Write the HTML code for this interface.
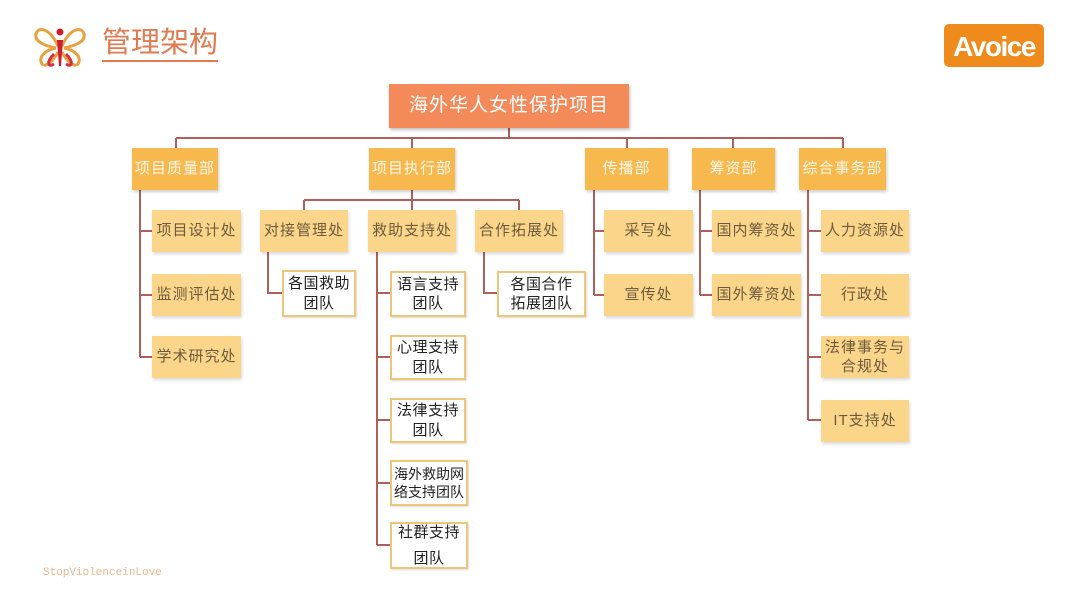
<!DOCTYPE html>
<html><head><meta charset="utf-8"><style>
body{margin:0;width:1080px;height:608px;background:#fff;position:relative;overflow:hidden;font-family:"Liberation Sans","Noto Sans CJK SC",sans-serif}
.b{position:absolute;display:flex;align-items:center;justify-content:center;text-align:center;box-sizing:border-box;line-height:1.3}
.d{background:#f7b84e;color:#fff7e8;font-size:15px;letter-spacing:1px;box-shadow:1px 2px 3px rgba(0,0,0,.2)}
.s{background:#fbd68a;color:#6e5a3c;font-size:15px;letter-spacing:1px;box-shadow:1px 2px 3px rgba(0,0,0,.15)}
.t{background:#fff;border:2px solid #ecc77a;color:#222;font-size:15px;letter-spacing:.5px;box-shadow:1px 1px 2px rgba(0,0,0,.15)}
svg{position:absolute;left:0;top:0}
</style></head><body>
<svg width="1080" height="608" fill="none" stroke="#b0605a" stroke-width="2">
<path d="M509 128V138M176 138H843M176 138V148M412 138V148M627 138V148M733 138V148M843 138V148"/>
<path d="M140 190V357M140 231H152M140 295H152M140 357H152"/>
<path d="M412 190V200M304 200H519M304 200V210M412 200V210M519 200V210"/>
<path d="M268 252V293H282M484 252V293H497"/>
<path d="M377 252V545M377 293H390M377 357H390M377 420H390M377 483H390M377 545H390"/>
<path d="M594 190V295M594 231H604M594 295H604"/>
<path d="M700 190V295M700 231H712M700 295H712"/>
<path d="M808 190V420M808 231H821M808 295H821M808 357H821M808 420H821"/>
</svg>
<svg width="60" height="60" style="left:30px;top:18px" viewBox="0 0 60 60">
<path d="M28 28C20 10 8 8 6 16 4 24 16 28 26 30 14 32 8 40 12 46 16 50 24 42 28 34" stroke="#e8a040" stroke-width="3" fill="none"/>
<path d="M32 28C40 10 52 8 54 16 56 24 44 28 34 30 46 32 52 40 48 46 44 50 36 42 32 34" stroke="#e8a040" stroke-width="3" fill="none"/>
<path d="M24 36C16 44 18 50 24 46M36 36C44 44 42 50 36 46" stroke="#d03040" stroke-width="3" fill="none"/>
<circle cx="30" cy="14" r="3.5" fill="#c8202c"/><path d="M27 22H33L31 48H29Z" fill="#c8202c"/>
</svg>
<div style="position:absolute;left:102px;top:26px;font-size:29px;color:#e07a50;border-bottom:2px solid #e07a50;line-height:34px">管理架构</div>
<div style="position:absolute;left:944px;top:24px;width:100px;height:43px;background:#ef8a1c;border-radius:5px;color:#fff;font-size:28px;font-weight:bold;text-align:center;line-height:46px;letter-spacing:-1.5px">Avoice</div>
<div style="position:absolute;left:43px;top:567px;font-size:11px;color:#eab890;font-family:'Liberation Mono',monospace">StopViolenceinLove</div>
<div class="b" style="left:389px;top:84px;width:240px;height:44px;background:#f4895a;color:#fff;font-size:19px;letter-spacing:1px;box-shadow:1px 2px 3px rgba(0,0,0,.25)">海外华人女性保护项目</div>
<div class="b d" style="left:132px;top:148px;width:86px;height:42px">项目质量部</div>
<div class="b d" style="left:369px;top:148px;width:86px;height:42px">项目执行部</div>
<div class="b d" style="left:585px;top:148px;width:83px;height:42px">传播部</div>
<div class="b d" style="left:692px;top:148px;width:83px;height:42px">筹资部</div>
<div class="b d" style="left:799px;top:148px;width:87px;height:42px">综合事务部</div>
<div class="b s" style="left:152px;top:210px;width:89px;height:42px">项目设计处</div>
<div class="b s" style="left:152px;top:274px;width:89px;height:42px">监测评估处</div>
<div class="b s" style="left:152px;top:336px;width:89px;height:42px">学术研究处</div>
<div class="b s" style="left:260px;top:210px;width:88px;height:42px">对接管理处</div>
<div class="b s" style="left:368px;top:210px;width:88px;height:42px">救助支持处</div>
<div class="b s" style="left:475px;top:210px;width:88px;height:42px">合作拓展处</div>
<div class="b s" style="left:604px;top:210px;width:89px;height:42px">采写处</div>
<div class="b s" style="left:604px;top:274px;width:89px;height:42px">宣传处</div>
<div class="b s" style="left:712px;top:210px;width:89px;height:42px">国内筹资处</div>
<div class="b s" style="left:712px;top:274px;width:89px;height:42px">国外筹资处</div>
<div class="b s" style="left:821px;top:210px;width:88px;height:42px">人力资源处</div>
<div class="b s" style="left:821px;top:274px;width:88px;height:42px">行政处</div>
<div class="b s" style="left:821px;top:336px;width:88px;height:42px">法律事务与<br>合规处</div>
<div class="b s" style="left:821px;top:400px;width:88px;height:42px">IT支持处</div>
<div class="b t" style="left:282px;top:270px;width:74px;height:47px">各国救助<br>团队</div>
<div class="b t" style="left:390px;top:271px;width:76px;height:46px">语言支持<br>团队</div>
<div class="b t" style="left:497px;top:271px;width:89px;height:46px">各国合作<br>拓展团队</div>
<div class="b t" style="left:390px;top:335px;width:76px;height:45px">心理支持<br>团队</div>
<div class="b t" style="left:390px;top:398px;width:76px;height:45px">法律支持<br>团队</div>
<div class="b t" style="left:390px;top:460px;width:78px;height:46px;font-size:14px;letter-spacing:0">海外救助网<br>络支持团队</div>
<div class="b t" style="left:390px;top:522px;width:78px;height:47px;line-height:1.7">社群支持<br>团队</div>
</body></html>
